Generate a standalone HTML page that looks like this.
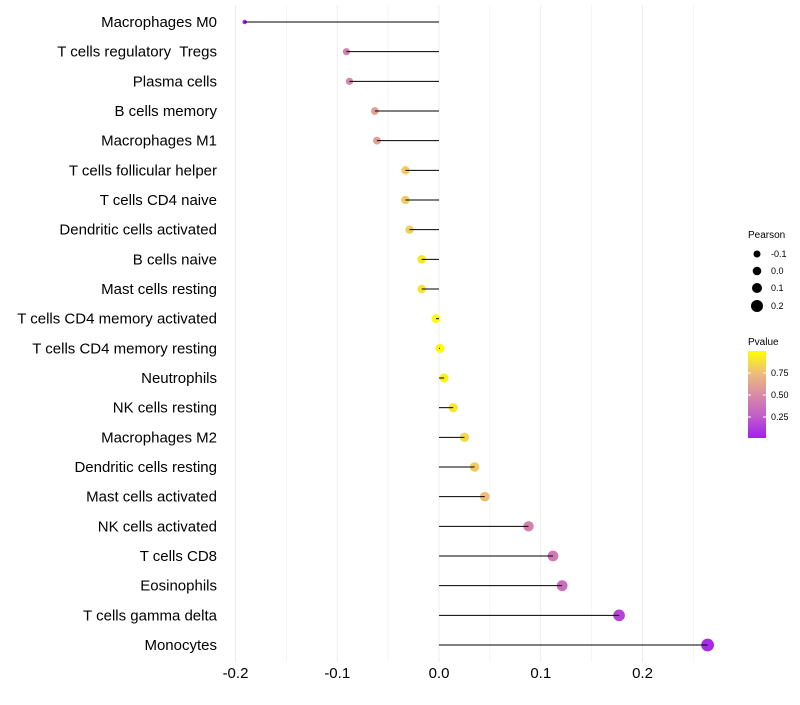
<!DOCTYPE html>
<html><head><meta charset="utf-8"><style>
body{margin:0;background:#fff;font-family:"Liberation Sans",sans-serif}
text{white-space:pre}
</style></head><body>
<svg id="chart" width="800" height="700" xmlns="http://www.w3.org/2000/svg">
<defs><linearGradient id="pg" x1="0" y1="1" x2="0" y2="0">
<stop offset="0" stop-color="#A020F0"/><stop offset="0.25" stop-color="#C25CC8"/><stop offset="0.5" stop-color="#D98CA6"/><stop offset="0.75" stop-color="#EDBE78"/><stop offset="1" stop-color="#FFFF00"/></linearGradient></defs>
<g id="grid"></g><g id="dots"></g><g id="stems"></g><g id="labels"></g>
<g font-size="9" fill="#000">
<text x="748" y="238" font-size="10">Pearson</text>
<circle cx="757" cy="254" r="3.5"/><text x="771" y="257">-0.1</text>
<circle cx="757" cy="271" r="4.3"/><text x="771" y="274">0.0</text>
<circle cx="757" cy="288" r="5"/><text x="771" y="291">0.1</text>
<circle cx="757" cy="306" r="6"/><text x="771" y="309">0.2</text>
</g>
<g font-size="9">
<text x="748" y="345" font-size="10">Pvalue</text>
<rect x="748" y="351" width="18" height="87" fill="url(#pg)"/>
<line x1="748" x2="751" y1="373" y2="373" stroke="#fff"/><line x1="763" x2="766" y1="373" y2="373" stroke="#fff"/>
<line x1="748" x2="751" y1="395" y2="395" stroke="#fff"/><line x1="763" x2="766" y1="395" y2="395" stroke="#fff"/>
<line x1="748" x2="751" y1="417" y2="417" stroke="#fff"/><line x1="763" x2="766" y1="417" y2="417" stroke="#fff"/>
<text x="771" y="376">0.75</text><text x="771" y="398">0.50</text><text x="771" y="420">0.25</text>
</g>
</svg>
<script>
const categories=["Macrophages M0","T cells regulatory  Tregs","Plasma cells","B cells memory","Macrophages M1","T cells follicular helper","T cells CD4 naive","Dendritic cells activated","B cells naive","Mast cells resting","T cells CD4 memory activated","T cells CD4 memory resting","Neutrophils","NK cells resting","Macrophages M2","Dendritic cells resting","Mast cells activated","NK cells activated","T cells CD8","Eosinophils","T cells gamma delta","Monocytes"];
const pearson=[-0.191,-0.091,-0.088,-0.063,-0.061,-0.033,-0.033,-0.029,-0.017,-0.017,-0.003,0.001,0.005,0.014,0.025,0.035,0.045,0.088,0.112,0.121,0.177,0.264];
const pvalue=[0.02,0.45,0.47,0.6,0.6,0.8,0.8,0.82,0.9,0.9,0.98,0.99,0.95,0.9,0.85,0.8,0.75,0.45,0.4,0.35,0.15,0.05];
const xticks=[-0.2,-0.1,0.0,0.1,0.2];
const NS="http://www.w3.org/2000/svg";
const x=v=>439+v*1017.5;
const y=i=>22+i*(623/21);
const rad=v=>Math.sqrt(Math.max(3,20+79*v));
const stops=[[160,32,240],[194,92,200],[217,140,166],[237,190,120],[255,255,0]];
function col(p){p=Math.max(0,Math.min(1,p));const t=p*4,i=Math.min(3,Math.floor(t)),f=t-i;const a=stops[i],b=stops[i+1];return `rgb(${a.map((c,k)=>Math.round(c+(b[k]-c)*f)).join(",")})`;}
function mk(tag,attrs,parent){const e=document.createElementNS(NS,tag);for(const k in attrs)e.setAttribute(k,attrs[k]);document.getElementById(parent).appendChild(e);return e;}
for(let j=-4;j<=5;j++){const k=j*0.05;const g=mk("line",{x1:x(k),x2:x(k),y1:5,y2:662,stroke:"#ebebeb","stroke-width":j%2===0?0.9:0.5},"grid");

}
xticks.forEach(t=>{const e=mk("text",{x:x(t),y:678,"text-anchor":"middle","font-size":"15",fill:"#000"},"labels");e.textContent=t.toFixed(1);

});
categories.forEach((c,i)=>{
const t=mk("text",{x:217,y:y(i)+5,"text-anchor":"end","font-size":"15",fill:"#000"},"labels");t.textContent=c;


const d=mk("circle",{cx:x(pearson[i]),cy:y(i),r:rad(pearson[i]),fill:col(pvalue[i])},"dots");


const l=mk("line",{x1:x(0),x2:x(pearson[i]),y1:y(i),y2:y(i),stroke:"#000","stroke-width":1},"stems");


});
</script>
</body></html>
